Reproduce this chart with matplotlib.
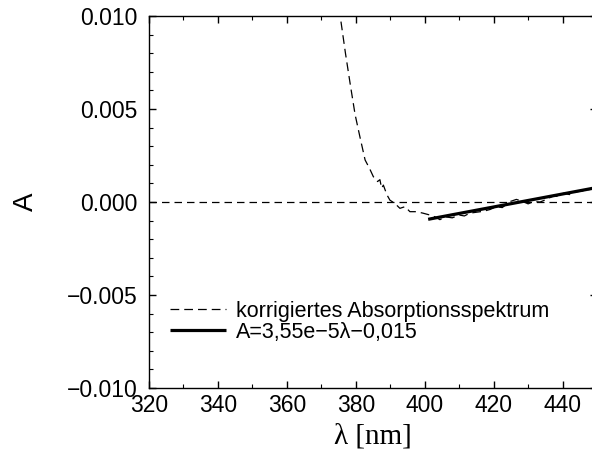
import matplotlib

matplotlib.use("Agg")
import matplotlib.pyplot as plt
from matplotlib.ticker import MultipleLocator

# corrected absorption spectrum
wavelength = [375.7, 377.0, 378.5, 379.8, 381.2, 382.7, 384.0, 385.1, 386.3, 387.0,
              387.5, 388.0, 389.0, 389.9, 391.3, 392.8, 394.3, 395.7, 397.6, 399.5,
              401.5, 403.0, 404.4, 406.0, 408.0, 410.0, 411.5, 413.1, 415.0, 417.0,
              419.0, 420.8, 422.5, 424.7, 426.6, 428.6, 430.0, 431.5, 433.5, 435.3,
              437.3, 438.8, 440.2, 442.0, 444.1, 446.0, 448.0, 450.0]
absorbance = [0.0097, 0.0080, 0.0062, 0.0047, 0.0035, 0.00226, 0.0018, 0.00136, 0.0011, 0.0012,
              0.00074, 0.00091, 0.0004, 0.0001, -0.00007, -0.00034, -0.00025, -0.00052, -0.00052, -0.0006,
              -0.0007, -0.0008, -0.00095, -0.0008, -0.00085, -0.0007, -0.00075, -0.0006, -0.00055, -0.0005,
              -0.0004, -0.00025, -0.0003, 0.00002, 0.00014, 0.00002, -0.0001, 0.00002, 0.0, 0.00014,
              0.00032, 0.0003, 0.00047, 0.0004, 0.00055, 0.0006, 0.00068, 0.00075]

# linear fit A = 3,55e-5*lambda - 0,015, end points as drawn
fit_wavelength = [401.0, 450.0]
fit_absorbance = [-0.00093, 0.00078]

xlim = (320, 450)
ylim = (-0.010, 0.010)

plt.rcParams["font.family"] = ["Liberation Sans", "DejaVu Sans"]

fig = plt.figure(figsize=(5.92, 4.51), dpi=100)
ax = fig.add_axes([0.2517, 0.1397, 1.0085 - 0.2517, 0.9645 - 0.1397])

ax.axhline(0, color="black", lw=0.9, ls=(0, (6, 4)))
ax.plot(wavelength, absorbance, color="black", lw=0.9, ls=(0, (7, 4)),
        label="korrigiertes Absorptionsspektrum")
ax.plot(fit_wavelength, fit_absorbance, color="black", lw=2.3, solid_capstyle="butt",
        label="A=3,55e\u22125\u03bb\u22120,015")

ax.set_xlim(*xlim)
ax.set_ylim(*ylim)
ax.xaxis.set_major_locator(MultipleLocator(20))
ax.xaxis.set_minor_locator(MultipleLocator(10))
ax.yaxis.set_major_locator(MultipleLocator(0.005))
ax.yaxis.set_minor_locator(MultipleLocator(0.001))
ax.yaxis.set_major_formatter(lambda v, pos: f"{v:.3f}".replace("-", "\u2212"))

ax.tick_params(which="both", direction="in", top=True, right=True, labelsize=16.5)
ax.tick_params(which="major", length=5, width=1)
ax.tick_params(which="minor", length=3, width=0.8)
ax.tick_params(axis="x", pad=4)
ax.tick_params(axis="y", pad=8)
for side in ax.spines.values():
    side.set_linewidth(1)

ax.set_xlabel("\u03bb [nm]", family="Liberation Serif", fontsize=21, labelpad=5)
ax.set_ylabel("A", fontsize=20, labelpad=20)

leg = ax.legend(loc="lower left", bbox_to_anchor=(0.004, 0.07), frameon=False, fontsize=15.5,
                handlelength=2.6, handletextpad=0.45, labelspacing=-0.02)

fig.savefig("out.png", dpi=100)
